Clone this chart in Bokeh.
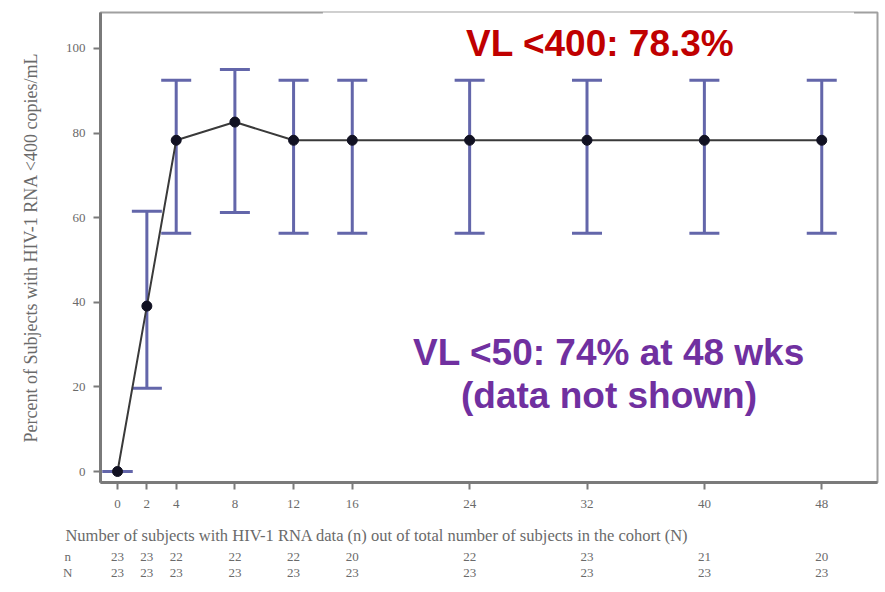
from bokeh.plotting import figure
from bokeh.layouts import column
from bokeh.models import Range1d, FixedTicker, Label, BoxAnnotation, ColumnDataSource
from bokeh.core.properties import value
from bokeh.embed import file_html
from bokeh.resources import INLINE

# Study weeks and percent of subjects with HIV-1 RNA <400 copies/mL (with 95% CI)
weeks = [0, 2, 4, 8, 12, 16, 24, 32, 40, 48]
pct_below_400 = [0.0, 39.1, 78.3, 82.6, 78.3, 78.3, 78.3, 78.3, 78.3, 78.3]
ci_lower = [0.0, 19.7, 56.3, 61.2, 56.3, 56.3, 56.3, 56.3, 56.3, 56.3]
ci_upper = [0.0, 61.5, 92.5, 95.0, 92.5, 92.5, 92.5, 92.5, 92.5, 92.5]

# Subjects with RNA data (n) out of the cohort (N) at each visit
n_with_data = [23, 23, 22, 22, 22, 20, 22, 23, 21, 20]
n_cohort = [23, 23, 23, 23, 23, 23, 23, 23, 23, 23]

y_ticks = [0, 20, 40, 60, 80, 100]
y_title = "Percent of Subjects with HIV-1 RNA <400 copies/mL"
table_title = ("Number of subjects with HIV-1 RNA data (n) out of total number "
               "of subjects in the cohort (N)")
headline = "VL <400: 78.3%"
note_lines = ["VL <50: 74% at 48 wks", "(data not shown)"]

GREY_TXT = "#6a6a6a"
W = 885

# x range of the chart and its frame margins (shared by the count table)
X0, X1 = -1.16, 51.8
LEFT, RIGHT = 100, 8
px_per_week = (W - LEFT - RIGHT) / (X1 - X0)

src = ColumnDataSource(dict(week=weeks, pct=pct_below_400, lo=ci_lower, hi=ci_upper))

# thin grey strip across the top of the slide
band = figure(width=W, height=5, output_backend="svg", toolbar_location=None,
              x_axis_type=None, y_axis_type=None, min_border=0)
band.frame_align = False
band.background_fill_color = "#e4e4e4"
band.border_fill_color = "#e4e4e4"
band.outline_line_color = None

p = figure(width=W, height=515, output_backend="svg", toolbar_location=None,
           x_range=Range1d(X0, X1), y_range=Range1d(-2.6, 108.5),
           min_border_left=LEFT, min_border_right=RIGHT, min_border_top=7,
           min_border_bottom=38)
p.frame_align = False
p.background_fill_color = "white"
p.border_fill_color = "white"
p.outline_line_color = "#a0a0a0"
p.outline_line_width = 2
p.grid.visible = False

# axes
for ax in (p.xaxis[0], p.yaxis[0]):
    ax.axis_line_color = "#7a7a7a"
    ax.axis_line_width = 3
    ax.major_tick_line_color = "#7a7a7a"
    ax.major_tick_line_width = 2
    ax.major_tick_out = 7
    ax.major_tick_in = 0
    ax.minor_tick_line_color = None
    ax.major_label_text_font = "Liberation Serif"
    ax.major_label_text_color = GREY_TXT
    ax.major_label_text_font_size = "13px"

p.xaxis.ticker = FixedTicker(ticks=weeks)
p.xaxis.major_label_standoff = 10

p.yaxis.ticker = FixedTicker(ticks=y_ticks)
p.yaxis.major_label_standoff = 8
p.yaxis.axis_label = y_title
p.yaxis.axis_label_text_font = "Liberation Serif"
p.yaxis.axis_label_text_font_style = "normal"
p.yaxis.axis_label_text_font_size = "18px"
p.yaxis.axis_label_text_color = GREY_TXT
p.yaxis.axis_label_standoff = 22

# confidence intervals
ci_color = "#6366aa"
p.segment(x0="week", y0="lo", x1="week", y1="hi", source=src,
          line_color=ci_color, line_width=3)
p.scatter(x="week", y="lo", source=src, marker="dash", size=30,
          line_color=ci_color, line_width=3)
p.scatter(x="week", y="hi", source=src, marker="dash", size=30,
          line_color=ci_color, line_width=3)

# response curve
p.line(x="week", y="pct", source=src, line_color="#3a3a3a", line_width=2)
p.scatter(x="week", y="pct", source=src, marker="circle", size=10,
          fill_color="#111122", line_color="#111122")

# headline box
p.add_layout(BoxAnnotation(left=14.0, right=50.2, bottom=94.3, top=112,
                           fill_color="white", fill_alpha=1.0, line_color=None,
                           level="overlay"))
p.add_layout(Label(x=32.9, y=101.2, text=headline, text_align="center",
                   text_baseline="middle", text_font="Liberation Sans",
                   text_font_style="bold", text_font_size="37px",
                   text_color="#c00000", level="overlay"))

# note about VL <50
for i, line in enumerate(note_lines):
    p.add_layout(Label(x=33.5, y=28.1 - 10.2 * i, text=line, text_align="center",
                       text_baseline="middle", text_font="Liberation Sans",
                       text_font_style="bold", text_font_size="37px",
                       text_color="#7030a0"))

# subject count table, on the same week scale as the chart
tbl_x0 = X0 - LEFT / px_per_week
tbl_x1 = X1 + RIGHT / px_per_week
tbl = figure(width=W, height=72, output_backend="svg", toolbar_location=None,
             x_range=Range1d(tbl_x0, tbl_x1), y_range=Range1d(72, 0),
             x_axis_type=None, y_axis_type=None, min_border=0)
tbl.frame_align = False
tbl.outline_line_color = None
tbl.grid.visible = False
tbl.background_fill_color = "white"
tbl.border_fill_color = "white"

tbl.text(x=[-3.55], y=[15], text=[table_title], text_align="left",
         text_baseline="middle", text_font=value("Liberation Serif"),
         text_font_size="16.5px", text_color=GREY_TXT)
row_src = ColumnDataSource(dict(
    x=[-3.4, -3.4] + weeks + weeks,
    y=[36, 52] + [36] * len(weeks) + [52] * len(weeks),
    t=["n", "N"] + [str(v) for v in n_with_data] + [str(v) for v in n_cohort],
))
tbl.text(x="x", y="y", text="t", source=row_src, text_align="center",
         text_baseline="middle", text_font=value("Liberation Serif"),
         text_font_size="13px", text_color=GREY_TXT)

layout = column(band, p, tbl, spacing=0)
open("out.html", "w").write(file_html(layout, INLINE))
